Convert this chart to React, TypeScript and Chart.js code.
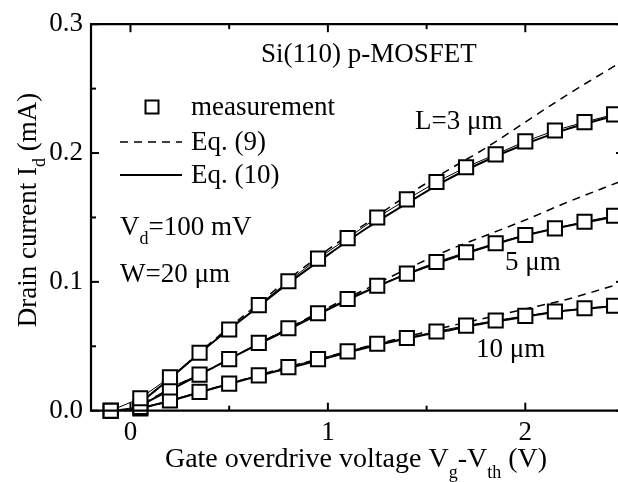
import React, { useEffect, useRef } from 'react';
import { Chart, registerables } from 'chart.js';

Chart.register(...registerables);

// Measurement (squares)
const measX = [-0.1, 0.05, 0.2, 0.35, 0.5, 0.65, 0.8, 0.95, 1.1, 1.25, 1.4, 1.55, 1.7, 1.85, 2.0, 2.15, 2.3, 2.45];
const meas3um = [0, 0.0097, 0.026, 0.045, 0.063, 0.082, 0.1005, 0.118, 0.134, 0.15, 0.164, 0.1775, 0.189, 0.199, 0.209, 0.2175, 0.224, 0.23];
const meas5um = [0, 0.003, 0.018, 0.028, 0.04, 0.0526, 0.064, 0.0756, 0.0867, 0.097, 0.1064, 0.1154, 0.123, 0.13, 0.1364, 0.1415, 0.1467, 0.1513];
const meas10um = [0, 0.0018, 0.008, 0.0146, 0.021, 0.0274, 0.0338, 0.04, 0.046, 0.052, 0.0564, 0.0615, 0.066, 0.07, 0.0736, 0.077, 0.0795, 0.0815];

// Model curves
const modelX = [0, 0.2, 0.4, 0.6, 0.8, 1.0, 1.2, 1.4, 1.6, 1.8, 2.0, 2.2, 2.5];
const eq9_3um = [0, 0.025, 0.052, 0.077, 0.102, 0.125, 0.146, 0.167, 0.186, 0.204, 0.224, 0.244, 0.272];
const eq9_5um = [0, 0.017, 0.032, 0.048, 0.064, 0.08, 0.095, 0.11, 0.124, 0.136, 0.148, 0.161, 0.179];
const eq9_10um = [0, 0.0075, 0.0165, 0.0255, 0.034, 0.042, 0.05, 0.0575, 0.065, 0.072, 0.079, 0.086, 0.0995];
const eq10_3um = [0, 0.025, 0.051, 0.075, 0.099, 0.121, 0.142, 0.161, 0.179, 0.194, 0.207, 0.218, 0.231];
const eq10_5um = [0, 0.016, 0.032, 0.048, 0.063, 0.0785, 0.093, 0.106, 0.117, 0.127, 0.136, 0.143, 0.152];
const eq10_10um = [0, 0.0075, 0.0165, 0.025, 0.033, 0.041, 0.049, 0.056, 0.062, 0.068, 0.073, 0.0775, 0.082];

// Axis ticks
const xMajorTicks = [0, 1, 2];
const xMinorTicks = [0.5, 1.5, 2.5];
const yMajorTicks = [0, 0.1, 0.2, 0.3];
const yMinorTicks = [0.05, 0.15, 0.25];

const FONT = "'Liberation Serif', 'DejaVu Serif', serif";
const FS = 27;
const SUB = 18;

type Part = { t: string; sub?: boolean };

function partsWidth(ctx: CanvasRenderingContext2D, parts: Part[], fs = FS, sub = SUB) {
  let w = 0;
  for (const p of parts) {
    ctx.font = `${p.sub ? sub : fs}px ${FONT}`;
    w += ctx.measureText(p.t).width;
  }
  return w;
}

function drawParts(ctx: CanvasRenderingContext2D, parts: Part[], x: number, y: number, fs = FS, sub = SUB, subOff = 9) {
  let cx = x;
  ctx.textAlign = 'left';
  ctx.textBaseline = 'alphabetic';
  for (const p of parts) {
    ctx.font = `${p.sub ? sub : fs}px ${FONT}`;
    ctx.fillText(p.t, cx, p.sub ? y + subOff : y);
    cx += ctx.measureText(p.t).width;
  }
}

const overlay = {
  id: 'overlay',
  afterDraw(chart: any) {
    const ctx: CanvasRenderingContext2D = chart.ctx;
    const { left, right, top, bottom } = chart.chartArea;
    const xs = chart.scales.x;
    const ys = chart.scales.y;
    ctx.save();
    ctx.strokeStyle = '#000';
    ctx.fillStyle = '#000';
    ctx.lineWidth = 2.2;
    ctx.beginPath();
    ctx.rect(left, top, right - left, bottom - top);
    ctx.stroke();
    ctx.lineWidth = 2;
    const tick = (x1: number, y1: number, x2: number, y2: number) => {
      ctx.beginPath();
      ctx.moveTo(x1, y1);
      ctx.lineTo(x2, y2);
      ctx.stroke();
    };
    for (const v of xMajorTicks) {
      const px = xs.getPixelForValue(v);
      tick(px, bottom, px, bottom - 8);
      tick(px, top, px, top + 8);
    }
    for (const v of xMinorTicks) {
      const px = xs.getPixelForValue(v);
      tick(px, bottom, px, bottom - 5);
      tick(px, top, px, top + 5);
    }
    for (const v of yMajorTicks) {
      const py = ys.getPixelForValue(v);
      tick(left, py, left + 8, py);
      tick(right, py, right - 8, py);
    }
    for (const v of yMinorTicks) {
      const py = ys.getPixelForValue(v);
      tick(left, py, left + 5, py);
      tick(right, py, right - 5, py);
    }

    // x title
    const xt: Part[] = [
      { t: 'Gate overdrive voltage V' },
      { t: 'g', sub: true },
      { t: '-V' },
      { t: 'th', sub: true },
      { t: ' (V)' },
    ];
    const xw = partsWidth(ctx, xt, 28, 18);
    drawParts(ctx, xt, 356 - xw / 2, 467, 28, 18, 11);

    // y title
    const yt: Part[] = [{ t: 'Drain current I' }, { t: 'd', sub: true }, { t: ' (mA)' }];
    const yw = partsWidth(ctx, yt);
    ctx.save();
    ctx.translate(36, 210);
    ctx.rotate(-Math.PI / 2);
    drawParts(ctx, yt, -yw / 2, 0);
    ctx.restore();

    // annotations
    drawParts(ctx, [{ t: 'Si(110) p-MOSFET' }], 261, 62);
    drawParts(ctx, [{ t: 'L=3 μm' }], 415, 129);
    drawParts(ctx, [{ t: '5 μm' }], 505, 270);
    drawParts(ctx, [{ t: '10 μm' }], 476, 357);
    drawParts(ctx, [{ t: 'V' }, { t: 'd', sub: true }, { t: '=100 mV' }], 120, 235);
    drawParts(ctx, [{ t: 'W=20 μm' }], 120, 282);

    // legend
    ctx.lineWidth = 2;
    ctx.fillStyle = '#fff';
    ctx.beginPath();
    ctx.rect(145.5, 100.5, 13, 13);
    ctx.fill();
    ctx.stroke();
    ctx.fillStyle = '#000';
    drawParts(ctx, [{ t: 'measurement' }], 191, 115);
    ctx.lineWidth = 1.5;
    ctx.setLineDash([8, 6]);
    tick(120, 142, 182, 142);
    ctx.setLineDash([]);
    drawParts(ctx, [{ t: 'Eq. (9)' }], 191, 150);
    ctx.lineWidth = 2;
    tick(120, 175, 182, 175);
    drawParts(ctx, [{ t: 'Eq. (10)' }], 191, 183);
    ctx.restore();
  },
};

function xy(xsArr: number[], ysArr: number[]) {
  return xsArr.map((x, i) => ({ x, y: ysArr[i] }));
}

export default function App() {
  const ref = useRef<HTMLCanvasElement>(null);
  useEffect(() => {
    if (!ref.current) return;
    const meas = (data: number[]) => ({
      label: 'measurement',
      data: xy(measX, data),
      borderColor: '#000',
      borderWidth: 1,
      pointStyle: 'rect' as const,
      pointRadius: 10,
      pointBorderWidth: 2,
      pointBackgroundColor: '#fff',
      pointBorderColor: '#000',
      order: 0,
      clip: false as any,
    });
    const eq9 = (data: number[]) => ({
      label: 'Eq. (9)',
      data: xy(modelX, data),
      borderColor: '#000',
      borderWidth: 1.5,
      borderDash: [8, 6],
      pointRadius: 0,
      cubicInterpolationMode: 'monotone' as const,
      order: 2,
    });
    const eq10 = (data: number[]) => ({
      label: 'Eq. (10)',
      data: xy(modelX, data),
      borderColor: '#000',
      borderWidth: 2,
      pointRadius: 0,
      cubicInterpolationMode: 'monotone' as const,
      order: 1,
    });
    const chart = new Chart(ref.current, {
      type: 'line',
      data: {
        datasets: [
          meas(meas3um), meas(meas5um), meas(meas10um),
          eq9(eq9_3um), eq9(eq9_5um), eq9(eq9_10um),
          eq10(eq10_3um), eq10(eq10_5um), eq10(eq10_10um),
        ] as any,
      },
      options: {
        animation: false,
        responsive: true,
        maintainAspectRatio: false,
        layout: { padding: { top: 20.7, right: 16, left: 0, bottom: 0 } },
        plugins: { legend: { display: false }, tooltip: { enabled: false } },
        scales: {
          x: {
            type: 'linear',
            min: -0.2,
            max: 2.5,
            grid: { display: false, drawTicks: false },
            border: { display: false },
            afterFit: (s: any) => { s.height = 71.3; },
            ticks: {
              stepSize: 0.5,
              includeBounds: false,
              padding: 6,
              color: '#000',
              font: { family: FONT, size: FS },
              maxRotation: 0,
              autoSkip: false,
              callback: (v: any) => {
                const n = Number(v);
                return Math.abs(n - Math.round(n)) < 1e-6 ? String(Math.round(n)) : '';
              },
            },
          },
          y: {
            type: 'linear',
            min: 0,
            max: 0.3,
            grid: { display: false, drawTicks: false },
            border: { display: false },
            afterFit: (s: any) => { s.width = 91; },
            ticks: {
              stepSize: 0.05,
              padding: 8,
              color: '#000',
              font: { family: FONT, size: FS },
              autoSkip: false,
              callback: (v: any) => {
                const n = Number(v) * 10;
                return Math.abs(n - Math.round(n)) < 1e-6 ? (Number(v)).toFixed(1) : '';
              },
            },
          },
        },
      },
      plugins: [overlay],
    });
    let alive = true;
    const fonts: any = (document as any).fonts;
    if (fonts && fonts.load) {
      Promise.all([
        fonts.load(`${FS}px 'Liberation Serif'`, 'Gate 0.1 μm'),
        fonts.load(`${SUB}px 'Liberation Serif'`, 'gth'),
      ]).then(() => { if (alive) chart.update(); }).catch(() => {});
    }
    return () => { alive = false; chart.destroy(); };
  }, []);
  return (
    <div style={{ position: 'fixed', left: 0, top: 0, width: 618, height: 482, overflow: 'hidden', background: '#fff' }}>
      <div style={{ position: 'relative', width: 640, height: 482 }}>
        <canvas ref={ref} />
      </div>
    </div>
  );
}
